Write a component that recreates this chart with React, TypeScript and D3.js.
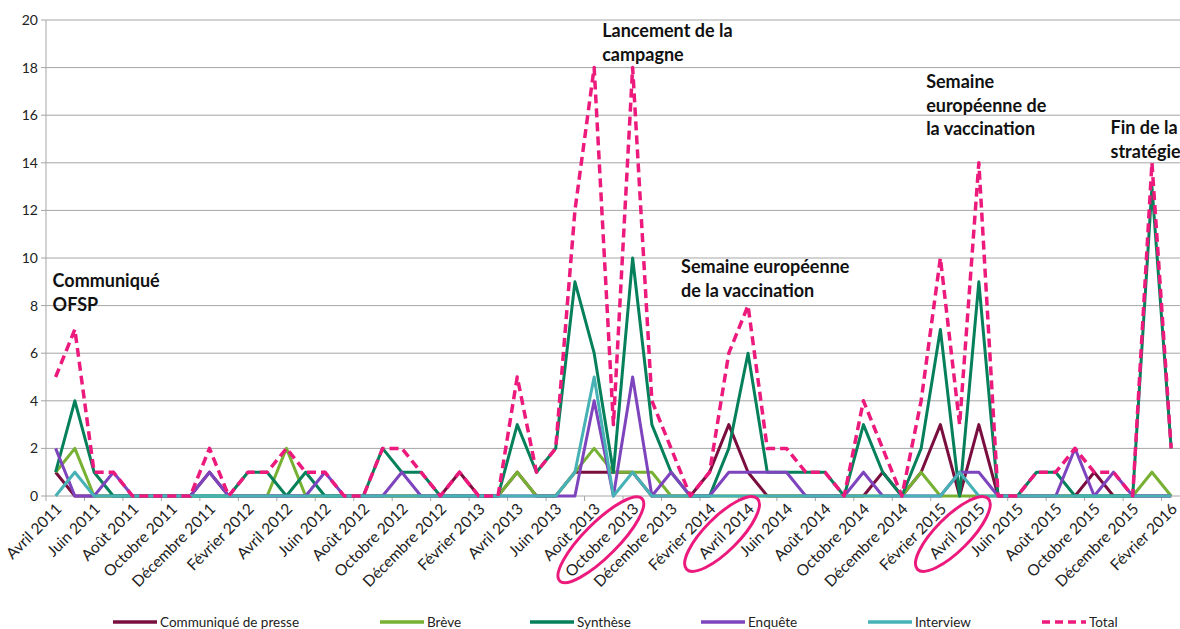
import React from "react";
import * as d3 from "d3";

const categories = [
  "Avril 2011","Mai 2011","Juin 2011","Juillet 2011","Août 2011","Septembre 2011","Octobre 2011","Novembre 2011","Décembre 2011","Janvier 2012",
  "Février 2012","Mars 2012","Avril 2012","Mai 2012","Juin 2012","Juillet 2012","Août 2012","Septembre 2012","Octobre 2012","Novembre 2012",
  "Décembre 2012","Janvier 2013","Février 2013","Mars 2013","Avril 2013","Mai 2013","Juin 2013","Juillet 2013","Août 2013","Septembre 2013",
  "Octobre 2013","Novembre 2013","Décembre 2013","Janvier 2014","Février 2014","Mars 2014","Avril 2014","Mai 2014","Juin 2014","Juillet 2014",
  "Août 2014","Septembre 2014","Octobre 2014","Novembre 2014","Décembre 2014","Janvier 2015","Février 2015","Mars 2015","Avril 2015","Mai 2015",
  "Juin 2015","Juillet 2015","Août 2015","Septembre 2015","Octobre 2015","Novembre 2015","Décembre 2015","Janvier 2016","Février 2016",
];

const communique = [
  1,0,0,0,0,0,0,0,1,0,
  0,0,0,0,0,0,0,0,0,0,
  0,1,0,0,1,0,0,1,1,1,
  1,0,0,0,1,3,1,0,0,0,
  0,0,0,1,0,1,3,0,3,0,
  0,0,0,0,1,0,0,0,0,
];
const breve = [
  1,2,0,0,0,0,0,0,0,0,
  0,0,2,0,0,0,0,0,0,0,
  0,0,0,0,1,0,0,1,2,1,
  1,1,0,0,0,0,0,0,0,0,
  0,0,0,0,0,1,0,0,0,0,
  0,0,0,0,0,0,0,1,0,
];
const synthese = [
  1,4,1,0,0,0,0,0,0,0,
  1,1,0,1,0,0,0,2,1,1,
  0,0,0,0,3,1,2,9,6,1,
  10,3,1,0,0,2,6,1,1,1,
  1,0,3,1,0,2,7,0,9,0,
  0,1,1,0,0,0,0,13,2,
];
const enquete = [
  2,0,0,1,0,0,0,0,1,0,
  0,0,0,0,1,0,0,0,1,0,
  0,0,0,0,0,0,0,0,4,0,
  5,0,1,0,0,1,1,1,1,0,
  0,0,1,0,0,0,0,1,1,0,
  0,0,0,2,0,1,0,0,0,
];
const interview = [
  0,1,0,0,0,0,0,0,0,0,
  0,0,0,0,0,0,0,0,0,0,
  0,0,0,0,0,0,0,1,5,0,
  1,0,0,0,0,0,0,0,0,0,
  0,0,0,0,0,0,0,1,0,0,
  0,0,0,0,0,0,0,0,0,
];
const total = [
  5,7,1,1,0,0,0,0,2,0,
  1,1,2,1,1,0,0,2,2,1,
  0,1,0,0,5,1,2,12,18,3,
  18,4,2,0,1,6,8,2,2,1,
  1,0,4,2,0,4,10,3,14,0,
  0,1,1,2,1,1,0,14,2,
];

const yTicks = [0, 2, 4, 6, 8, 10, 12, 14, 16, 18, 20];

const seriesNames = ["Communiqué de presse", "Brève", "Synthèse", "Enquête", "Interview", "Total"];
const seriesColors = ["#7a0f3f", "#77b133", "#05805a", "#7e44bd", "#46b2b6", "#ec1a7c"];

const annotations = [
  { idx: 0, lines: ["Communiqué", "OFSP"], dx: -3, y: 287 },
  { idx: 28, lines: ["Lancement de la", "campagne"], dx: 8, y: 37 },
  { idx: 32, lines: ["Semaine européenne", "de la vaccination"], dx: 10, y: 273 },
  { idx: 45, lines: ["Semaine", "européenne de", "la vaccination"], dx: 5, y: 88 },
  { idx: 55, lines: ["Fin de la", "stratégie"], dx: -3, y: 134 },
];

const circled = ["Octobre 2013", "Avril 2014", "Avril 2015"];

export default function App() {
  const W = 1180, H = 629;
  const left = 46, right = 1180.8, top = 20, bottom = 496;
  const idx = d3.range(categories.length);
  const x = d3.scalePoint<number>().domain(idx).range([left, right]).padding(0.5);
  const step = x.step();
  const y = d3.scaleLinear().domain([0, 20]).range([bottom, top]);

  const series = [communique, breve, synthese, enquete, interview, total];
  const line = d3.line<number>().x((_, i) => x(i) as number).y((d) => y(d));

  const font = "Lato, 'Open Sans', sans-serif";
  const tickBoundaries = d3.range(0, categories.length + 1, 2).map((k) => left + k * step);

  const legendX = [113, 380, 530, 701, 868, 1042];
  const labelFs = 15.5;

  return (
    <svg width={W} height={H} style={{ position: "absolute", left: 0, top: 0, background: "#fff" }} fontFamily={font}>
      {yTicks.map((t) => (
        <g key={t}>
          <line x1={left} x2={right} y1={y(t)} y2={y(t)} stroke="#a6a6a6" strokeWidth={1} />
          <line x1={left - 5} x2={left} y1={y(t)} y2={y(t)} stroke="#a6a6a6" strokeWidth={1} />
          <text x={38} y={y(t) + 5} textAnchor="end" fontSize={14} fill="#222">{t}</text>
        </g>
      ))}
      <line x1={left} x2={left} y1={top} y2={bottom} stroke="#a6a6a6" strokeWidth={1} />
      {tickBoundaries.map((tx, k) => (
        <line key={k} x1={tx} x2={tx} y1={bottom} y2={bottom + 5} stroke="#a6a6a6" strokeWidth={1} />
      ))}
      {idx.filter((i) => i % 2 === 0).map((i) => {
        const px = (x(i) as number) + 7;
        const py = 510;
        return (
          <text key={i} x={px} y={py} textAnchor="end" fontSize={labelFs} fill="#222"
            transform={`rotate(-45 ${px} ${py})`}>{categories[i]}</text>
        );
      })}
      {series.map((s, si) => (
        <path key={si} d={line(s) || ""} fill="none" stroke={seriesColors[si]}
          strokeWidth={si === 5 ? 3.5 : 3}
          strokeDasharray={si === 5 ? "9 5" : undefined}
          strokeLinejoin="round" />
      ))}
      {annotations.map((a, ai) => (
        <text key={ai} x={(x(a.idx) as number) + a.dx} y={a.y} fontSize={18} fontWeight="bold" fill="#111">
          {a.lines.map((l, li) => (
            <tspan key={li} x={(x(a.idx) as number) + a.dx} dy={li === 0 ? 0 : 23.5}>{l}</tspan>
          ))}
        </text>
      ))}
      {circled.map((c) => {
        const i = categories.indexOf(c);
        const px = (x(i) as number);
        const len = c.length * 8.2;
        const cx = px + 7 - (len / 2) * 0.707 - 4;
        const cy = 510 + (len / 2) * 0.707 - 5;
        return (
          <ellipse key={c} cx={cx} cy={cy} rx={len / 2 + 9} ry={17} fill="none" stroke="#ec1a7c" strokeWidth={3}
            transform={`rotate(-45 ${cx} ${cy})`} />
        );
      })}
      {seriesNames.map((n, si) => (
        <g key={n}>
          <line x1={legendX[si]} x2={legendX[si] + 44} y1={622} y2={622} stroke={seriesColors[si]} strokeWidth={3.5}
            strokeDasharray={si === 5 ? "8 5" : undefined} />
          <text x={legendX[si] + 47} y={627} fontSize={13.5} fill="#222">{n}</text>
        </g>
      ))}
    </svg>
  );
}
